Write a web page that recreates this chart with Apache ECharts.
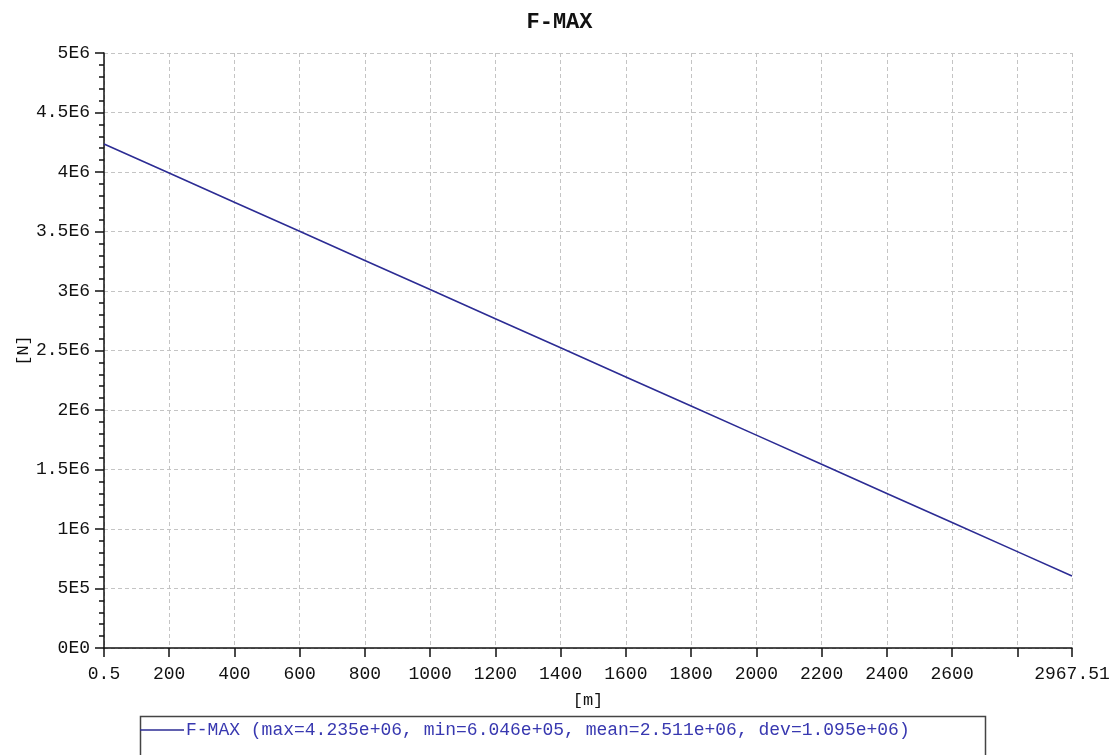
<!DOCTYPE html>
<html>
<head>
<meta charset="utf-8">
<title>F-MAX</title>
<script src="https://cdn.jsdelivr.net/npm/echarts@6/dist/echarts.min.js"></script>
<style>
  html, body { margin: 0; padding: 0; background: #ffffff; }
  #chart { width: 1119px; height: 755px; }
</style>
</head>
<body>
<div id="chart"></div>
<script>
// Position along the line [m] and the maximum force [N] at each position
const positions = [0.5, 200, 400, 600, 800, 1000, 1200, 1400, 1600, 1800, 2000, 2200, 2400, 2600, 2800, 2967.51];
const forces = [4.235e6, 3.991e6, 3.746e6, 3.502e6, 3.257e6, 3.012e6, 2.767e6, 2.523e6, 2.278e6, 2.033e6, 1.789e6, 1.544e6, 1.299e6, 1.054e6, 0.810e6, 0.6046e6];

// Axis tick positions and the labelled subset
const xTickValues = [0.5, 200, 400, 600, 800, 1000, 1200, 1400, 1600, 1800, 2000, 2200, 2400, 2600, 2800, 2967.51];
const xLabelValues = [0.5, 200, 400, 600, 800, 1000, 1200, 1400, 1600, 1800, 2000, 2200, 2400, 2600, 2967.51];

const seriesName = 'F-MAX';
const legendText = 'F-MAX (max=4.235e+06, min=6.046e+05, mean=2.511e+06, dev=1.095e+06)';

const MONO = '"Liberation Mono", "Courier New", "DejaVu Sans Mono", monospace';
const LINE_COLOR = '#2c2c94';
const GRID_COLOR = '#c4c4c4';

function sciLabel(v) {
  if (v === 0) return '0E0';
  const e = Math.floor(Math.log10(v) + 1e-9);
  const m = Math.round(v / Math.pow(10, e) * 100) / 100;
  return m + 'E' + e;
}

const chart = echarts.init(document.getElementById('chart'), null, { renderer: 'canvas' });

chart.setOption({
  backgroundColor: '#ffffff',
  animation: false,
  title: {
    text: 'F-MAX',
    left: 'center',
    top: 6,
    textStyle: { fontFamily: MONO, fontSize: 22, fontWeight: 'bold', color: '#111111' }
  },
  // frame around the legend entry
  graphic: [{
    type: 'rect',
    left: 138,
    top: 714,
    shape: { width: 845, height: 60 },
    style: { fill: 'none', stroke: '#444444', lineWidth: 1.5 },
    silent: true
  }],
  legend: {
    left: 140,
    top: 721,
    data: [seriesName],
    formatter: () => legendText,
    icon: 'rect',
    itemWidth: 44,
    itemHeight: 1.5,
    itemGap: 0,
    padding: 0,
    itemStyle: { color: LINE_COLOR, borderWidth: 0 },
    textStyle: { fontFamily: MONO, fontSize: 18, color: '#3838b0', padding: [0, 0, 0, -3] }
  },
  grid: { left: 104, right: 47, top: 53, bottom: 107, containLabel: false },
  xAxis: {
    type: 'value',
    min: 0.5,
    max: 2967.51,
    name: '[m]',
    nameLocation: 'middle',
    nameGap: 44,
    nameMoveOverlap: false,
    nameTextStyle: { fontFamily: MONO, fontSize: 17, color: '#111111' },
    axisLine: { show: true, onZero: false, lineStyle: { color: '#111111', width: 1.5 } },
    axisTick: { show: true, inside: false, length: 9, customValues: xTickValues, lineStyle: { color: '#111111', width: 1.5 } },
    axisLabel: {
      show: true,
      margin: 17,
      customValues: xLabelValues,
      fontFamily: MONO,
      fontSize: 18,
      color: '#111111',
      formatter: v => String(Math.round(v * 100) / 100)
    },
    splitLine: { show: true, lineStyle: { color: GRID_COLOR, width: 1, type: [4, 3] } }
  },
  yAxis: {
    type: 'value',
    min: 0,
    max: 5e6,
    interval: 5e5,
    name: '[N]',
    nameLocation: 'middle',
    nameGap: 72,
    nameMoveOverlap: false,
    nameTextStyle: { fontFamily: MONO, fontSize: 17, color: '#111111' },
    axisLine: { show: true, onZero: false, lineStyle: { color: '#111111', width: 1.5 } },
    axisTick: { show: true, inside: false, length: 9, lineStyle: { color: '#111111', width: 1.5 } },
    minorTick: { show: true, splitNumber: 5, length: 5, lineStyle: { color: '#111111', width: 1.5 } },
    axisLabel: {
      margin: 14,
      fontFamily: MONO,
      fontSize: 18,
      color: '#111111',
      formatter: sciLabel
    },
    splitLine: { show: true, lineStyle: { color: GRID_COLOR, width: 1, type: [4, 3] } }
  },
  series: [{
    name: seriesName,
    type: 'line',
    data: positions.map((x, i) => [x, forces[i]]),
    showSymbol: false,
    symbol: 'none',
    lineStyle: { color: LINE_COLOR, width: 1.6 },
    itemStyle: { color: LINE_COLOR }
  }]
});
</script>
</body>
</html>
